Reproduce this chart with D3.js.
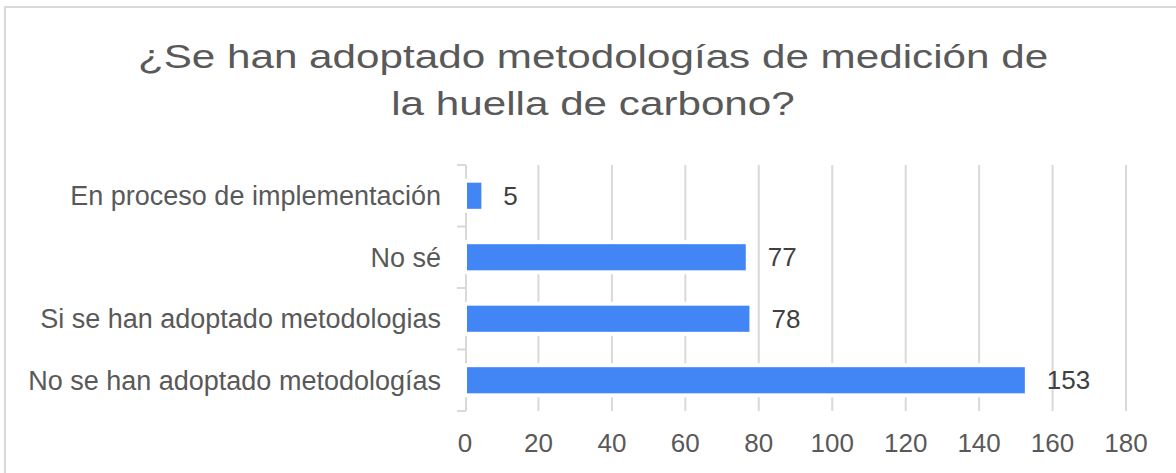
<!DOCTYPE html>
<html>
<head>
<meta charset="utf-8">
<script src="https://cdn.jsdelivr.net/npm/d3@7"></script>
<style>
  body { margin: 0; background: #fff; }
  text { font-family: "Liberation Sans", Arial, sans-serif; }
</style>
</head>
<body>
<div id="chart"></div>
<script>
var width = 1176, height = 473;

// data
var categories = ["En proceso de implementación", "No sé", "Si se han adoptado metodologias", "No se han adoptado metodologías"];
var values = [5, 77, 78, 153];
var xTicks = [0, 20, 40, 60, 80, 100, 120, 140, 160, 180];
var titleLines = ["¿Se han adoptado metodologías de medición de", "la huella de carbono?"];

var svg = d3.select("#chart").append("svg")
    .attr("width", width)
    .attr("height", height);

// outer frame (runs past the right and bottom edge)
svg.append("rect")
    .attr("x", 5).attr("y", 7)
    .attr("width", 1300).attr("height", 600)
    .attr("fill", "#fff")
    .attr("stroke", "#d9d9d9")
    .attr("stroke-width", 2);

var x = d3.scaleLinear()
    .domain([0, 180])
    .range([465, 1126]);

var y = d3.scaleBand()
    .domain(categories)
    .range([165, 411])
    .paddingInner(0.51)
    .paddingOuter(0.255);

// title, glyphs are a bit wider than normal in the picture
var title = svg.append("g")
    .attr("transform", "translate(593,0) scale(1.26,1)");
title.selectAll("text")
    .data(titleLines)
    .enter()
    .append("text")
    .attr("x", 0)
    .attr("y", function(d, i) { return 68 + i * 47; })
    .attr("text-anchor", "middle")
    .style("font-size", "33.5px")
    .style("fill", "#595959")
    .text(function(d) { return d; });

// gridlines
svg.append("g")
    .selectAll("line")
    .data(xTicks.slice(1))
    .enter()
    .append("line")
    .attr("x1", d => x(d)).attr("x2", d => x(d))
    .attr("y1", 165).attr("y2", 411)
    .attr("stroke", "#d9d9d9")
    .attr("stroke-width", 2);

// category axis with band ticks
var bounds = [165].concat(categories.map(c => y(c) + y.bandwidth() + y.step() * y.paddingInner() / 2));
bounds[bounds.length - 1] = 411;
var yAxis = svg.append("g");
yAxis.append("line")
    .attr("x1", 466).attr("x2", 466)
    .attr("y1", 165).attr("y2", 411)
    .attr("stroke", "#d9d9d9")
    .attr("stroke-width", 2);
yAxis.selectAll("line.tick")
    .data(bounds)
    .enter()
    .append("line")
    .attr("class", "tick")
    .attr("x1", 457).attr("x2", 466)
    .attr("y1", d => d).attr("y2", d => d)
    .attr("stroke", "#d9d9d9")
    .attr("stroke-width", 2);

yAxis.selectAll("text")
    .data(categories)
    .enter()
    .append("text")
    .attr("x", 441)
    .attr("y", d => y(d) + y.bandwidth() / 2)
    .attr("dy", "0.35em")
    .attr("text-anchor", "end")
    .style("font-size", "27px")
    .style("fill", "#595959")
    .text(d => d);

// bars
svg.append("g")
    .selectAll("rect")
    .data(values)
    .enter()
    .append("rect")
    .attr("x", x(0))
    .attr("y", (d, i) => y(categories[i]))
    .attr("width", d => x(d) - x(0))
    .attr("height", y.bandwidth())
    .attr("fill", "#4285f4")
    .attr("stroke", "#fff")
    .attr("stroke-width", 4);

// value labels
svg.append("g")
    .selectAll("text")
    .data(values)
    .enter()
    .append("text")
    .attr("x", d => x(d) + 20)
    .attr("y", (d, i) => y(categories[i]) + y.bandwidth() / 2)
    .attr("dy", "0.35em")
    .style("font-size", "26px")
    .style("fill", "#404040")
    .text(d => d);

// x tick labels
svg.append("g")
    .selectAll("text")
    .data(xTicks)
    .enter()
    .append("text")
    .attr("x", d => x(d))
    .attr("y", 452)
    .attr("text-anchor", "middle")
    .style("font-size", "26px")
    .style("fill", "#595959")
    .text(d => d);
</script>
</body>
</html>
